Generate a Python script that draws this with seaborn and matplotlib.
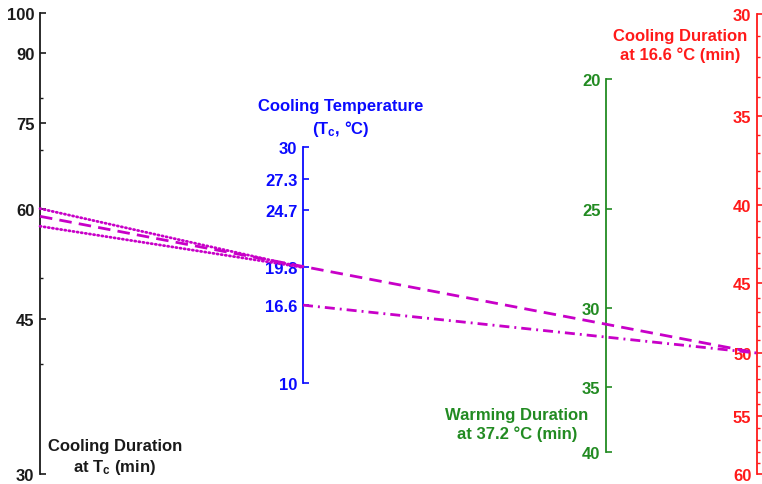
import numpy as np
import pandas as pd
import matplotlib
matplotlib.use("Agg")
import matplotlib.pyplot as plt
import seaborn as sns
from matplotlib.ticker import FixedLocator, FixedFormatter, NullFormatter

# ---- scale definitions -------------------------------------------------
dur_tc_ticks = [30, 45, 60, 75, 90, 100]
dur_tc_minor = [40, 50, 70, 80]
temp_ticks = [10, 16.6, 19.8, 24.7, 27.3, 30]
temp_labels = ["10", "16.6", "19.8", "24.7", "27.3", "30"]
warm_ticks = [20, 25, 30, 35, 40]
dur166_ticks = [30, 35, 40, 45, 50, 55, 60]
dur166_minor = [v for v in range(31, 60) if v % 5]

# ---- isopleths: start scale/value -> end scale/value --------------------
iso_start_axis = ["dur_tc", "dur_tc", "dur_tc", "temp"]
iso_start_val = [60.0, 58.8, 57.3, 16.6]
iso_end_axis = ["temp", "dur166", "temp", "dur166"]
iso_end_val = [19.8, 50.0, 19.8, 50.0]
iso_style = ["dotted", "dashed", "dotted", "dashdot"]

sns.set_theme(style="white")
plt.rcParams["font.family"] = ["Liberation Sans", "DejaVu Sans"]
plt.rcParams["font.weight"] = "bold"
plt.rcParams["mathtext.fontset"] = "custom"
plt.rcParams["mathtext.rm"] = "Liberation Sans:bold"
plt.rcParams["mathtext.it"] = "Liberation Sans:bold"
plt.rcParams["mathtext.bf"] = "Liberation Sans:bold"

W, H = 762, 485
fig = plt.figure(figsize=(W / 100, H / 100), dpi=100)
fig.patch.set_facecolor("white")

BLACK = "#1a1a1a"
BLUE = "#0a0aff"
GREEN = "#228b22"
RED = "#ff1a1a"
MAGENTA = "#c800c8"


def scale_axes(x_px, top_px, bot_px, color):
    ax = fig.add_axes([x_px / W, 1 - bot_px / H, 0.0005, (bot_px - top_px) / H])
    ax.set_facecolor("none")
    for side in ("top", "right", "bottom"):
        ax.spines[side].set_visible(False)
    ax.spines["left"].set_color(color)
    ax.spines["left"].set_linewidth(1.3)
    ax.set_xticks([])
    ax.tick_params(axis="y", which="both", direction="in", colors=color,
                   labelcolor=color, labelsize=12, pad=4, left=True)
    ax.tick_params(axis="y", which="major", length=4, width=1.2)
    ax.tick_params(axis="y", which="minor", length=2.5, width=1.0)
    return ax


# Cooling duration at Tc (log)
ax_tc = scale_axes(40, 14, 475, BLACK)
ax_tc.set_yscale("log")
ax_tc.set_ylim(30, 100)
ax_tc.yaxis.set_major_locator(FixedLocator(dur_tc_ticks))
ax_tc.yaxis.set_major_formatter(FixedFormatter([str(v) for v in dur_tc_ticks]))
ax_tc.yaxis.set_minor_locator(FixedLocator(dur_tc_minor))
ax_tc.yaxis.set_minor_formatter(NullFormatter())

# Cooling temperature (linear)
ax_temp = scale_axes(303, 148, 384, BLUE)
ax_temp.set_ylim(10, 30)
ax_temp.yaxis.set_major_locator(FixedLocator(temp_ticks))
ax_temp.yaxis.set_major_formatter(FixedFormatter(temp_labels))

# Warming duration at 37.2 C (power scale)
ax_warm = scale_axes(606, 80, 453, GREEN)
ax_warm.set_yscale("function",
                    functions=(lambda v: -np.power(np.abs(v), -0.35),
                               lambda u: np.power(np.abs(u), -1 / 0.35)))
ax_warm.set_ylim(40, 20)
ax_warm.yaxis.set_major_locator(FixedLocator(warm_ticks))
ax_warm.yaxis.set_major_formatter(FixedFormatter([str(v) for v in warm_ticks]))
ax_warm.yaxis.set_minor_locator(FixedLocator([]))

# Cooling duration at 16.6 C (log, reversed)
ax_166 = scale_axes(757, 15, 475, RED)
ax_166.set_yscale("log")
ax_166.set_ylim(60, 30)
ax_166.yaxis.set_major_locator(FixedLocator(dur166_ticks))
ax_166.yaxis.set_major_formatter(FixedFormatter([str(v) for v in dur166_ticks]))
ax_166.yaxis.set_minor_locator(FixedLocator(dur166_minor))
ax_166.yaxis.set_minor_formatter(NullFormatter())

for a in (ax_tc, ax_temp, ax_warm, ax_166):
    for lbl in a.get_yticklabels():
        lbl.set_fontweight("bold")

scales = {"dur_tc": ax_tc, "temp": ax_temp, "warm": ax_warm, "dur166": ax_166}

# overlay for the isopleths, in figure fraction units
ov = fig.add_axes([0, 0, 1, 1])
ov.set_xlim(0, 1)
ov.set_ylim(0, 1)
ov.set_facecolor("none")
ov.axis("off")


def point_on(scale_name, value):
    ax = scales[scale_name]
    disp = ax.get_yaxis_transform().transform((0, value))
    return ov.transData.inverted().transform(disp)


line_styles = {
    "dotted": (0, (0.4, 1.1)),
    "dashed": (0, (4.5, 2.6)),
    "dashdot": (0, (3.6, 1.8, 0.7, 1.8)),
}
cap_styles = {"dotted": "round", "dashed": "butt", "dashdot": "butt"}

rows = []
for i, (sa, sv, ea, ev, st) in enumerate(zip(iso_start_axis, iso_start_val,
                                              iso_end_axis, iso_end_val, iso_style)):
    p0 = point_on(sa, sv)
    p1 = point_on(ea, ev)
    rows.append({"line": i, "x": p0[0], "y": p0[1], "style": st})
    rows.append({"line": i, "x": p1[0], "y": p1[1], "style": st})
iso = pd.DataFrame(rows)

for i, grp in iso.groupby("line"):
    st = grp["style"].iloc[0]
    sns.lineplot(data=grp, x="x", y="y", ax=ov, color=MAGENTA, linewidth=2.0,
                 linestyle=line_styles[st], dash_capstyle=cap_styles[st],
                 sort=False, estimator=None, legend=False)
ov.set_xlim(0, 1)
ov.set_ylim(0, 1)
ov.axis("off")

# scale titles
fs = 12
fig.text(115 / W, 1 - 458 / H, "Cooling Duration\nat T$_{c}$ (min)", color=BLACK,
         ha="center", va="center", fontsize=fs, fontweight="bold", linespacing=1.3)
fig.text(341 / W, 1 - 119 / H, "Cooling Temperature\n(T$_{c}$, \u00b0C)", color=BLUE,
         ha="center", va="center", fontsize=fs, fontweight="bold", linespacing=1.35)
fig.text(517 / W, 1 - 425 / H, "Warming Duration\nat 37.2 \u00b0C (min)", color=GREEN,
         ha="center", va="center", fontsize=fs, fontweight="bold", linespacing=1.35)
fig.text(680 / W, 1 - 46 / H, "Cooling Duration\nat 16.6 \u00b0C (min)", color=RED,
         ha="center", va="center", fontsize=fs, fontweight="bold", linespacing=1.3)

fig.savefig("out.png", dpi=100, facecolor="white")
